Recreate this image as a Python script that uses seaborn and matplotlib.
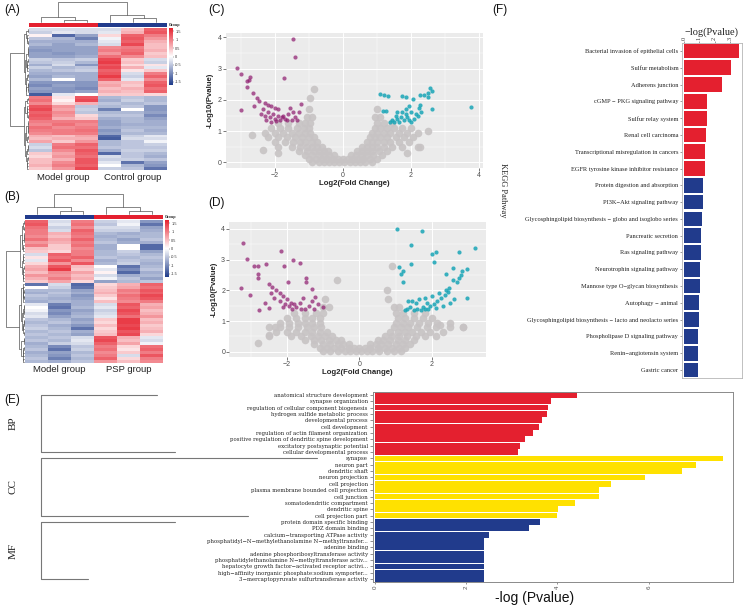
import numpy as np
import pandas as pd
import matplotlib
matplotlib.use("Agg")
import matplotlib.pyplot as plt
import seaborn as sns
from matplotlib.colors import LinearSegmentedColormap, ListedColormap
import matplotlib.transforms as mtrans

# ---------------- DATA ----------------
# Heatmap A (rows x 6 samples: Model x3, Control x3)
heat_a = [
    [-0.3,-0.3,-0.3,-0.3,0.5,1.2],[-0.4,-0.2,-0.3,-0.2,0.6,1.3],[0.1,-1.3,-0.8,0.3,1.2,1.0],
    [-0.5,-0.6,-1.1,-0.1,1.3,0.8],[-0.7,-0.7,-0.7,-0.2,1.2,0.6],[-0.6,-0.8,-0.6,-0.3,1.4,0.5],
    [-0.8,-0.8,-0.8,0.9,1.0,0.5],[-0.9,-0.8,-0.8,1.0,1.1,0.6],[-0.8,-0.9,-0.8,0.8,1.2,0.4],
    [-0.8,-0.8,-0.7,1.1,0.9,0.5],[-0.4,-0.5,-0.4,1.4,0.4,-0.3],[-0.5,-0.4,-0.6,1.5,0.5,-0.4],
    [-0.7,-0.3,-0.9,1.3,0.3,0.2],[-0.4,-0.6,-0.5,1.4,0.6,-0.2],[-0.6,-0.5,-0.4,1.2,0.2,0.4],
    [-0.7,-0.7,-0.7,1.3,-0.3,1.0],[-0.8,-0.6,-0.7,1.5,-0.4,1.2],[-0.6,0.0,-0.7,1.2,-0.2,0.9],
    [-0.9,-0.9,-0.9,0.6,0.5,1.2],[-1.0,-0.8,-0.9,0.7,0.4,1.3],[-0.8,-0.9,-1.0,0.5,0.6,1.1],
    [-0.9,-0.9,-0.8,0.6,0.5,1.2],[-1.4,-0.2,0.0,0.4,0.4,0.3],[1.0,0.2,1.3,-0.6,-0.5,-0.6],
    [1.1,0.1,1.4,-0.7,-0.4,-0.6],[0.9,0.3,0.6,-0.5,-0.6,-0.5],[1.3,0.8,-0.5,-0.6,-0.5,-0.9],
    [1.4,0.7,-0.4,-1.1,0.0,-0.9],[1.2,0.9,-0.5,-0.6,-0.6,-0.8],[1.3,0.8,0.3,-0.5,-0.5,-1.0],
    [1.2,0.6,0.4,-0.7,-0.6,-0.8],[1.0,1.0,1.0,-0.8,-0.6,-0.7],[0.9,1.1,0.9,-0.8,-0.7,-0.7],
    [1.1,0.9,1.0,-0.7,-0.6,-0.6],[1.0,1.0,1.1,-0.9,-0.5,-0.7],[0.9,1.0,1.0,-0.8,-0.6,-0.6],
    [0.6,0.5,0.7,-1.3,-0.4,-0.2],[0.5,0.6,0.6,-1.4,-0.3,-0.3],[0.7,0.4,0.8,-0.6,-0.5,-0.1],
    [-0.4,1.0,1.2,-0.6,-0.5,-0.4],[-0.3,1.1,1.1,-0.5,-0.5,-0.5],[-0.5,0.9,1.3,-0.7,-0.4,-0.4],
    [0.4,0.7,1.2,-1.3,-0.5,-0.6],[0.3,0.8,1.1,-0.3,-0.5,-0.7],[0.5,0.6,1.3,-0.4,-0.4,-0.5],
    [0.5,0.9,1.3,-0.2,-1.2,-0.8],[0.6,1.0,1.2,0.0,-0.6,-0.9],[0.4,0.8,1.4,-0.4,-0.5,-1.2],
]
groups_a = [0, 0, 0, 1, 1, 1]          # 0 = red (Model), 1 = blue (Control)
group_names_a = ["Model group", "Control group"]
col_tree_a = [(1, 2, 0.12), (4, 5, 0.2), (0, 6, 0.27), (3, 7, 0.37), (8, 9, 1.0)]

# Heatmap B (Model x3, PSP x3)
heat_b = [
    [1.2,-0.3,1.0,-0.4,-0.2,-0.9],[1.3,-0.2,1.1,-0.5,-0.1,-1.2],[1.1,-0.4,0.9,-0.3,-0.3,-0.8],
    [1.0,-0.3,1.2,-0.4,-0.4,-0.7],[1.0,0.6,1.1,-0.6,-0.7,-0.6],[0.9,0.5,1.0,-0.7,-0.6,-0.6],
    [1.1,0.7,1.2,-0.6,-0.8,-0.5],[0.8,0.6,1.0,-0.5,-0.7,-0.7],[1.0,0.4,1.1,-0.7,0.0,-1.3],
    [0.5,0.4,0.9,-0.7,0.0,-1.3],[0.4,0.3,1.0,-0.6,-0.4,-0.8],[-0.3,1.2,1.0,-0.6,-0.5,-0.6],
    [0.2,1.1,1.2,-0.5,-0.6,-0.5],[-0.2,1.3,0.9,-0.7,-0.5,-0.6],[0.3,0.8,1.3,-0.6,-0.4,-0.7],
    [0.6,1.3,0.5,0.0,-1.2,-0.6],[0.7,1.5,0.4,-0.2,-1.0,-0.5],[0.5,0.9,0.7,0.1,-1.3,-0.7],
    [0.8,0.8,0.5,-0.3,-0.7,-0.6],[0.6,1.0,0.6,-0.1,-0.5,-0.8],[0.4,0.7,0.3,-0.8,-0.6,-0.5],
    [-1.2,-0.3,-1.3,0.3,0.6,1.2],[0.0,-0.4,-1.2,0.4,0.7,1.1],[-0.6,-0.6,-0.8,0.5,1.0,1.3],
    [-0.7,-0.5,-0.7,0.6,0.9,1.2],[-0.5,-0.6,-0.9,0.4,1.1,1.4],[-0.6,-0.7,-0.8,0.2,1.0,1.3],
    [-0.7,-0.6,-0.7,0.5,0.9,1.0],[-0.2,-1.1,-0.7,-0.3,1.3,0.6],[0.0,-1.2,-0.6,-0.2,1.2,0.7],
    [-0.1,-0.9,-0.8,-0.4,1.4,0.5],[-0.3,-1.0,-0.7,-0.3,1.3,0.6],[-0.2,-0.8,-0.6,-0.2,1.1,0.8],
    [-0.5,-0.6,-0.8,0.4,1.5,0.5],[-0.6,-0.5,-0.7,0.3,1.5,0.6],[-0.5,-0.7,-0.9,0.5,1.4,0.4],
    [-0.4,-0.6,-1.2,0.3,1.5,0.5],[-0.6,-0.5,-0.7,0.4,1.3,0.6],[-0.5,-0.6,-0.8,0.5,1.4,0.3],
    [-0.6,-0.5,-0.3,1.3,0.6,-0.2],[-0.5,-0.6,-0.2,1.4,0.5,-0.3],[-0.7,-0.4,-0.3,1.2,0.7,-0.1],
    [-0.6,-1.0,-0.5,1.0,0.3,1.1],[-0.5,-1.2,-0.4,1.1,0.2,1.2],[-0.7,-0.8,-0.6,0.9,0.4,1.0],
    [-0.6,-0.9,-0.5,1.0,-0.3,1.3],[-0.5,-1.1,-0.6,1.2,0.3,1.0],[-0.6,-0.7,-0.5,0.8,0.5,0.9],
]
groups_b = [1, 1, 1, 0, 0, 0]          # Model = blue, PSP = red
group_names_b = ["Model group", "PSP group"]
col_tree_b = [(1, 2, 0.15), (4, 5, 0.15), (0, 6, 0.35), (3, 7, 0.35), (8, 9, 1.0)]
cbar_ticks = [1.5, 1, 0.5, 0, -0.5, -1, -1.5]

# Volcano C: gray (non-significant) points by y band, plus outliers
gray_c_bands = [
    (0.02, [-0.9,-0.7,-0.55,-0.4,-0.25,-0.1,0.05,0.2,0.35,0.5,0.65,0.85]),
    (0.12, [-1.0,-0.8,-0.6,-0.45,-0.3,-0.15,0.0,0.15,0.3,0.45,0.6,0.8,1.0]),
    (0.25, [-1.1,-0.9,-0.7,-0.55,-0.4,-0.25,0.25,0.4,0.55,0.7,0.9,1.15]),
    (0.38, [-1.3,-1.05,-0.85,-0.7,-0.55,-0.42,0.42,0.55,0.7,0.85,1.05,1.3]),
    (0.5,  [-1.9,-1.5,-1.25,-1.05,-0.9,-0.75,-0.6,0.55,0.7,0.85,1.0,1.2,1.45,1.75,2.2]),
    (0.65, [-2.0,-1.7,-1.45,-1.25,-1.1,-0.9,-0.75,0.7,0.85,1.0,1.2,1.4,1.65,1.95]),
    (0.8,  [-2.2,-1.9,-1.65,-1.4,-1.2,-1.0,-0.85,0.8,0.95,1.1,1.3,1.55,1.8,2.05]),
    (0.95, [-2.3,-2.0,-1.75,-1.5,-1.3,-1.1,-0.95,0.85,1.0,1.2,1.4,1.65,1.9,2.2]),
    (1.1,  [-2.1,-1.85,-1.6,-1.35,-1.15,-1.0,0.95,1.1,1.3,1.5,1.75,2.0]),
    (1.25, [-1.9,-1.6,-1.3,-1.1,-0.95,1.0,1.2,1.45]),
    (1.45, [-1.05,-0.9,0.95,1.1]),
    (1.7,  [-1.0,1.0]),
]
gray_c_out = [(-0.86,2.34),(-0.96,2.05),(-2.67,0.87),(-2.33,0.39),(2.27,0.48),(-1.9,0.3),(1.9,0.3),(2.5,1.0)]
purple_c = [(-1.47,3.94),(-1.39,3.37),(-1.74,2.69),(-2.72,2.74),(-2.82,2.62),(-2.8,2.42),(-3.1,3.01),
            (-3.0,2.83),(-2.77,2.64),(-3.0,1.68),(-2.63,2.21),(-2.53,2.05),(-1.22,1.87),(-1.55,1.73),
            (-2.45,1.95),(-2.3,1.9),(-2.2,1.85),(-2.1,1.8),(-2.0,1.75),(-1.9,1.7),(-2.35,1.7),(-2.2,1.6),
            (-2.05,1.55),(-1.9,1.5),(-1.8,1.45),(-1.7,1.4),(-2.3,1.5),(-2.15,1.45),(-2.0,1.4),(-1.85,1.35),
            (-1.65,1.35),(-1.5,1.35),(-2.1,1.3),(-1.95,1.32),(-1.75,1.5),(-1.6,1.55),(-1.4,1.45),(-1.3,1.6),
            (-2.4,1.55),(-2.6,1.8),(-2.25,1.35),(-1.45,1.6),(-1.35,1.35)]
cyan_c = [(1.1,2.19),(1.21,2.16),(1.32,2.14),(1.75,2.14),(1.86,2.1),(2.06,2.02),(2.27,2.16),(2.4,2.16),
          (2.56,2.37),(2.63,2.3),(2.51,2.21),(2.51,2.08),(3.76,1.78),(2.61,1.7),(1.17,1.65),(1.27,1.65),
          (2.27,1.84),(2.25,1.75),(1.95,1.8),(1.85,1.7),(1.75,1.6),(2.0,1.6),(2.15,1.55),(1.7,1.45),
          (1.9,1.45),(2.1,1.4),(1.6,1.4),(1.45,1.35),(1.55,1.5),(1.8,1.35),(2.0,1.3),(1.5,1.3),(1.4,1.3),
          (1.65,1.3),(2.2,1.5),(1.85,1.55),(2.3,1.6),(1.6,1.6),(1.95,1.35)]

# Volcano D
gray_d_bands = [
    (0.02, [-1.0,-0.8,-0.6,-0.4,-0.25,-0.1,0.05,0.2,0.35,0.55,0.75,0.95,1.15]),
    (0.12, [-1.1,-0.9,-0.7,-0.5,-0.3,-0.15,0.0,0.15,0.3,0.5,0.7,0.9,1.1,1.25]),
    (0.25, [-1.25,-1.0,-0.8,-0.6,-0.45,-0.3,0.3,0.45,0.6,0.8,1.0,1.2,1.4]),
    (0.38, [-1.5,-1.25,-1.05,-0.85,-0.65,-0.5,0.5,0.65,0.85,1.05,1.25,1.5]),
    (0.5,  [-2.5,-1.9,-1.6,-1.35,-1.15,-0.95,-0.75,0.7,0.9,1.1,1.3,1.55,1.8,2.1]),
    (0.65, [-2.3,-2.0,-1.75,-1.5,-1.3,-1.1,-0.9,0.85,1.05,1.25,1.45,1.7,1.95,2.3]),
    (0.8,  [-2.5,-2.2,-1.95,-1.7,-1.45,-1.25,-1.05,0.95,1.15,1.35,1.6,1.85,2.1,2.5,2.85]),
    (0.95, [-2.2,-1.95,-1.7,-1.5,-1.3,-1.1,1.0,1.2,1.4,1.65,1.9,2.15]),
    (1.1,  [-2.0,-1.75,-1.5,-1.3,-1.1,1.05,1.25,1.5,1.75,2.0]),
    (1.25, [-1.8,-1.5,-1.2,-1.0,1.0,1.2,1.5,1.8]),
    (1.45, [-1.0,-0.85,0.95,1.1]),
    (1.7,  [-0.95,0.8]),
]
gray_d_out = [(-0.63,2.33),(0.89,2.78),(0.75,2.0),(-2.49,0.54),(-2.33,0.81),(2.22,0.87),(2.85,0.81),(2.5,0.92),(-2.8,0.3)]
purple_d = [(-3.22,3.55),(-3.11,3.03),(-2.9,2.79),(-2.79,2.79),(-2.59,2.85),(-2.17,3.28),(-2.07,2.78),
            (-1.84,2.98),(-1.64,2.89),(-3.28,2.09),(-3.02,1.86),(-2.79,2.52),(-2.79,2.4),(-1.96,2.27),
            (-1.48,2.41),(-1.48,2.27),(-1.32,2.05),(-2.78,1.35),(-2.49,1.41),(-1.0,1.46),(-1.23,1.79),
            (-2.5,2.2),(-2.4,2.1),(-2.3,2.0),(-2.2,1.9),(-2.1,1.8),(-2.0,1.7),(-1.9,1.6),(-1.8,1.55),
            (-2.35,1.75),(-2.2,1.65),(-2.05,1.55),(-1.95,1.5),(-1.75,1.45),(-1.6,1.4),(-1.5,1.38),
            (-1.85,1.38),(-2.1,1.45),(-1.4,1.5),(-1.3,1.65),(-1.25,1.4),(-1.65,1.6),(-1.55,1.75),
            (-2.45,1.9),(-2.6,1.6),(-1.15,1.55)]
cyan_d = [(1.04,4.0),(1.72,3.94),(1.41,3.47),(2.0,3.19),(2.11,3.23),(2.06,2.93),(2.74,3.26),(3.18,3.38),
          (1.1,2.77),(1.21,2.63),(1.41,2.87),(1.14,2.52),(1.19,2.26),(2.4,2.54),(2.57,2.74),(2.96,2.69),
          (2.83,2.62),(2.79,2.5),(2.74,2.4),(2.7,2.27),(2.97,1.75),(2.57,2.35),(2.48,2.07),
          (1.35,1.65),(1.45,1.65),(1.55,1.6),(1.65,1.7),(1.8,1.75),(1.85,1.6),(1.95,1.5),(2.05,1.55),
          (2.15,1.65),(2.25,1.75),(2.35,1.85),(2.45,1.95),(2.2,1.9),(2.0,1.8),(1.75,1.45),(1.6,1.4),
          (1.7,1.35),(1.8,1.4),(1.9,1.38),(1.5,1.35),(1.4,1.45),(2.1,1.42),(2.3,1.5),(2.5,1.6),
          (2.6,1.7),(1.3,1.4),(1.25,1.35),(2.4,2.0)]

# Panel E: GO enrichment
e_terms = [
    "anatomical structure development", "synapse organization",
    "regulation of cellular component biogenesis", "hydrogen sulfide metabolic process",
    "developmental process", "cell development", "regulation of actin filament organization",
    "positive regulation of dendritic spine development", "excitatory postsynaptic potential",
    "cellular developmental process",
    "synapse", "neuron part", "dendritic shaft", "neuron projection", "cell projection",
    "plasma membrane bounded cell projection", "cell junction", "somatodendritic compartment",
    "dendritic spine", "cell projection part",
    "protein domain specific binding", "PDZ domain binding", "calcium\u2212transporting ATPase activity",
    "phosphatidyl\u2212N\u2212methylethanolamine N\u2212methyltransfer...", "adenine binding",
    "adenine phosphoribosyltransferase activity",
    "phosphatidylethanolamine N\u2212methyltransferase activ...",
    "hepatocyte growth factor\u2212activated receptor activi...",
    "high\u2212affinity inorganic phosphate:sodium symporter...",
    "3\u2212mercaptopyruvate sulfurtransferase activity",
]
e_values = [4.42, 3.85, 3.79, 3.76, 3.66, 3.6, 3.47, 3.29, 3.18, 3.13,
            7.62, 7.03, 6.72, 5.91, 5.17, 4.92, 4.92, 4.38, 4.01, 4.0,
            3.62, 3.38, 2.49, 2.38, 2.38, 2.38, 2.38, 2.38, 2.38, 2.38]
e_groups = ["BP"] * 10 + ["CC"] * 10 + ["MF"] * 10
e_xticks = [0, 2, 4, 6]

# Panel F: KEGG
f_terms = [
    "Bacterial invasion of epithelial cells", "Sulfur metabolism", "Adherens junction",
    "cGMP \u2212 PKG signaling pathway", "Sulfur relay system", "Renal cell carcinoma",
    "Transcriptional misregulation in cancers", "EGFR tyrosine kinase inhibitor resistance",
    "Protein digestion and absorption", "PI3K\u2212Akt signaling pathway",
    "Glycosphingolipid biosynthesis \u2212 globo and isoglobo series", "Pancreatic secretion",
    "Ras signaling pathway", "Neurotrophin signaling pathway", "Mannose type O\u2212glycan biosynthesis",
    "Autophagy \u2212 animal", "Glycosphingolipid biosynthesis \u2212 lacto and neolacto series",
    "Phospholipase D signaling pathway", "Renin\u2212angiotensin system", "Gastric cancer",
]
f_values = [3.6, 3.05, 2.5, 1.48, 1.48, 1.46, 1.37, 1.35, 1.26, 1.22,
            1.2, 1.14, 1.1, 1.04, 1.04, 0.98, 0.98, 0.91, 0.89, 0.89]
f_groups = ["up"] * 8 + ["down"] * 12
f_xticks = [0, 1, 2, 3]

# ---------------- STYLE ----------------
RED = "#e4202f"
NAVY = "#213b8c"
YELLOW = "#ffe100"
PURPLE = "#8e1a6e"
CYAN = "#18a5b6"
GRAY = "#c7c3c4"

sns.set_theme(style="white")
plt.rcParams['font.family'] = ['Liberation Sans', 'DejaVu Sans']

W, H = 745, 608
fig = plt.figure(figsize=(7.45, 6.08), dpi=100)


def pax(x0, y0, x1, y1, **kw):
    return fig.add_axes([x0 / W, 1 - y1 / H, (x1 - x0) / W, (y1 - y0) / H], **kw)


def ftext(x, y, s, **kw):
    fig.text(x / W, 1 - y / H, s, **kw)


hm_cmap = LinearSegmentedColormap.from_list("hm", ["#1d3a8a", "#ffffff", "#e6222f"])


def draw_tree(ax, merges, n, orient):
    pos = {i: i + 0.5 for i in range(n)}
    hgt = {i: 0.0 for i in range(n)}
    nid = n
    for a, b, h in merges:
        pa, pb, ha, hb = pos[a], pos[b], hgt[a], hgt[b]
        if orient == "top":
            xs, ys = [pa, pa, pb, pb], [ha, h, h, hb]
        else:
            xs, ys = [ha, h, h, hb], [pa, pa, pb, pb]
        ax.plot(xs, ys, color="#555555", lw=0.5, clip_on=False)
        pos[nid] = (pa + pb) / 2
        hgt[nid] = h
        nid += 1
    return max(hgt.values())


def adjacent_merges(mat):
    """order-preserving Ward-like clustering of adjacent rows"""
    mat = np.asarray(mat)
    clusters = [(i, [i]) for i in range(len(mat))]
    hts = {i: 0.0 for i in range(len(mat))}
    merges = []
    nid = len(mat)
    while len(clusters) > 1:
        best = None
        for k in range(len(clusters) - 1):
            ma, mb = clusters[k][1], clusters[k + 1][1]
            d = np.linalg.norm(mat[ma].mean(0) - mat[mb].mean(0))
            d *= np.sqrt(2 * len(ma) * len(mb) / (len(ma) + len(mb)))
            if best is None or d < best[0]:
                best = (d, k)
        d, k = best
        ida, ma = clusters[k]
        idb, mb = clusters[k + 1]
        h = max(d, hts[ida], hts[idb])
        merges.append((ida, idb, h))
        hts[nid] = h
        clusters[k:k + 2] = [(nid, ma + mb)]
        nid += 1
    return merges


def heat_panel(mat, groups, col_tree, x0, x1, y0, y1, names, label_y):
    mat = np.asarray(mat)
    n = len(mat)
    ax = pax(x0, y0, x1, y1)
    cax = pax(x1 + 2, y0, x1 + 6, y0 + 57)
    sns.heatmap(mat, ax=ax, cmap=hm_cmap, vmin=-1.7, vmax=1.7, cbar_ax=cax,
                xticklabels=False, yticklabels=False, cbar_kws={"ticks": cbar_ticks})
    cb = ax.collections[0].colorbar
    cb.outline.set_visible(False)
    cax.tick_params(labelsize=2.8, length=0.8, width=0.3, pad=0.8, colors="#333333")
    cax.set_yticklabels([str(t) for t in cbar_ticks])
    # group bar
    gax = pax(x0, y0 - 5, x1, y0 - 1)
    sns.heatmap(np.array([groups]), ax=gax, cmap=ListedColormap([RED, NAVY]), vmin=0, vmax=1,
                cbar=False, xticklabels=False, yticklabels=False)
    ftext(x1 + 2, y0 - 3, "Group", fontsize=2.8, va="center", ha="left", fontweight="bold")
    # column dendrogram
    dax = pax(x0, y0 - 26, x1, y0 - 6)
    top = draw_tree(dax, col_tree, 6, "top")
    dax.set_xlim(0, 6)
    dax.set_ylim(0, top)
    dax.axis("off")
    # row dendrogram
    rax = pax(x0 - 19, y0, x0 - 1, y1)
    rm = adjacent_merges(mat)
    rtop = draw_tree(rax, rm, n, "left")
    rax.set_xlim(rtop * 1.02, 0)
    rax.set_ylim(n, 0)
    rax.axis("off")
    # group labels
    cw = (x1 - x0) / 6
    ftext(x0 + 1.5 * cw, label_y, names[0], fontsize=6.8, ha="center", va="center", color="#222222")
    ftext(x0 + 4.5 * cw, label_y, names[1], fontsize=6.8, ha="center", va="center", color="#222222")


heat_panel(heat_a, groups_a, col_tree_a, 29, 167, 28, 170, group_names_a, 178)
heat_panel(heat_b, groups_b, col_tree_b, 25, 163, 220, 363, group_names_b, 369)


def expand(bands, extra):
    xs, ys = [], []
    for yv, xl in bands:
        for xv in xl:
            xs.append(xv)
            ys.append(yv)
    for xv, yv in extra:
        xs.append(xv)
        ys.append(yv)
    return xs, ys


def volcano(box, bands, outs, purple, cyan, xlim, ylim, xticks):
    ax = pax(*box)
    ax.set_facecolor("#EBEBEB")
    gx, gy = expand(bands, outs)
    sns.scatterplot(x=gx, y=gy, ax=ax, color=GRAY, s=30, alpha=0.9, linewidth=0, zorder=3)
    px, py = zip(*purple)
    sns.scatterplot(x=list(px), y=list(py), ax=ax, color=PURPLE, s=9, alpha=0.7, linewidth=0, zorder=4)
    cx, cy = zip(*cyan)
    sns.scatterplot(x=list(cx), y=list(cy), ax=ax, color=CYAN, s=9, alpha=0.85, linewidth=0, zorder=4)
    ax.set_xlim(*xlim)
    ax.set_ylim(*ylim)
    ax.set_xticks(xticks)
    ax.set_yticks([0, 1, 2, 3, 4])
    ax.set_xticks([t + 1 for t in xticks[:-1]] + [xticks[0] - 1], minor=True)
    ax.set_yticks([0.5, 1.5, 2.5, 3.5], minor=True)
    ax.grid(which="major", color="white", lw=0.7)
    ax.grid(which="minor", color="white", lw=0.35)
    ax.set_axisbelow(True)
    for s in ax.spines.values():
        s.set_visible(False)
    ax.tick_params(which="major", left=True, bottom=True, length=2, width=0.5, color="#444444",
                   labelsize=5, labelcolor="#4d4d4d", pad=1)
    ax.tick_params(which="minor", left=False, bottom=False)
    ax.set_xlabel("Log2(Fold Change)", fontsize=5.6, fontweight="bold", labelpad=0.5)
    ax.set_ylabel("-Log10(Pvalue)", fontsize=5.6, fontweight="bold", labelpad=1)
    return ax


volcano((225.7, 33, 482.7, 168), gray_c_bands, gray_c_out, purple_c, cyan_c,
        (-3.44, 4.11), (-0.18, 4.14), [-2, 0, 2, 4])
volcano((229.3, 222.3, 486, 356.7), gray_d_bands, gray_d_out, purple_d, cyan_d,
        (-3.59, 3.49), (-0.16, 4.21), [-2, 0, 2])

# ---------------- Panel E ----------------
ax_e = pax(372.7, 391.7, 732.7, 582.3)
sns.barplot(x=e_values, y=e_terms, hue=e_groups, order=e_terms, orient="h", dodge=False,
            palette={"BP": RED, "CC": YELLOW, "MF": NAVY}, saturation=1, width=0.9,
            legend=False, ax=ax_e, linewidth=0)
ax_e.set_xlim(-0.05, 7.84)
ax_e.set_ylim(29.5, -0.5)
ax_e.set_xticks(e_xticks)
ax_e.set_xticklabels([str(t) for t in e_xticks], rotation=90, fontsize=4.5, color="#555555")
ax_e.tick_params(axis="y", left=True, length=2.5, width=0.5, color="#666666", pad=1)
ax_e.tick_params(axis="x", bottom=True, length=1.5, width=0.5, color="#666666", pad=1)
for lbl in ax_e.get_yticklabels():
    lbl.set_fontfamily("DejaVu Serif")
    lbl.set_fontsize(3.9)
    lbl.set_color("#222222")
ax_e.set_xlabel("")
ax_e.set_ylabel("")
for s in ax_e.spines.values():
    s.set_color("#8a8a8a")
    s.set_linewidth(0.7)
ftext(534.7, 598, "-log (Pvalue)", fontsize=10, ha="center", va="center", color="#111111")

# ---------------- Panel F ----------------
ax_f = pax(681.7, 42.7, 741.7, 378.3)
sns.barplot(x=f_values, y=f_terms, hue=f_groups, order=f_terms, orient="h", dodge=False,
            palette={"up": RED, "down": NAVY}, saturation=1, width=0.88,
            legend=False, ax=ax_f, linewidth=0)
ax_f.set_xlim(-0.15, 3.77)
ax_f.set_ylim(19.5, -0.5)
ax_f.xaxis.tick_top()
ax_f.set_xticks(f_xticks)
ax_f.set_xticklabels([str(t) for t in f_xticks], rotation=90, fontsize=4.5,
                     fontfamily="Liberation Serif", color="#333333")
ax_f.tick_params(axis="x", top=True, length=1.5, width=0.5, color="#777777", pad=0.5)
ax_f.tick_params(axis="y", left=True, length=1.5, width=0.5, color="#777777", pad=1)
for lbl in ax_f.get_yticklabels():
    lbl.set_fontfamily("Liberation Serif")
    lbl.set_fontsize(4.6)
    lbl.set_color("#222222")
ax_f.set_xlabel("")
ax_f.set_ylabel("")
for s in ax_f.spines.values():
    s.set_color("#b5b5b5")
    s.set_linewidth(0.6)
ftext(711.7, 32, "\u2212log(Pvalue)", fontsize=7.5, ha="center", va="center",
      family=["Liberation Serif", "DejaVu Serif"], color="#222222")
ftext(503, 190, "KEGG Pathway", fontsize=6, ha="center", va="center", rotation=270,
      family=["Liberation Serif"], color="#222222")

# ---------------- Annotations: brackets & panel letters ----------------
ov = fig.add_axes([0, 0, 1, 1])
ov.set_xlim(0, W)
ov.set_ylim(H, 0)
ov.axis("off")
ov.patch.set_visible(False)
tr = mtrans.blended_transform_factory(ov.transData, ax_e.transData)
brackets = [(0, 9, 157, 175, "BP"), (10, 19, 317, 248, "CC"), (20, 29, 175, 88, "MF")]
for r0, r1, xt, xb, name in brackets:
    ov.plot([xt, 40.7, 40.7, xb], [r0, r0, r1, r1], color="#777777", lw=0.8, transform=tr)
    ov.text(13, (r0 + r1) / 2, name, transform=tr, rotation=90, ha="center", va="center",
            fontsize=8, family=["Liberation Serif"], color="#222222")

for lab, x, y in [("(A)", 12, 10), ("(B)", 12, 197), ("(C)", 217, 10), ("(D)", 217, 203),
                  ("(E)", 12, 400), ("(F)", 500, 10)]:
    ftext(x, y, lab, fontsize=8.5, ha="center", va="center", color="#111111")

fig.savefig("out.png", dpi=100)
